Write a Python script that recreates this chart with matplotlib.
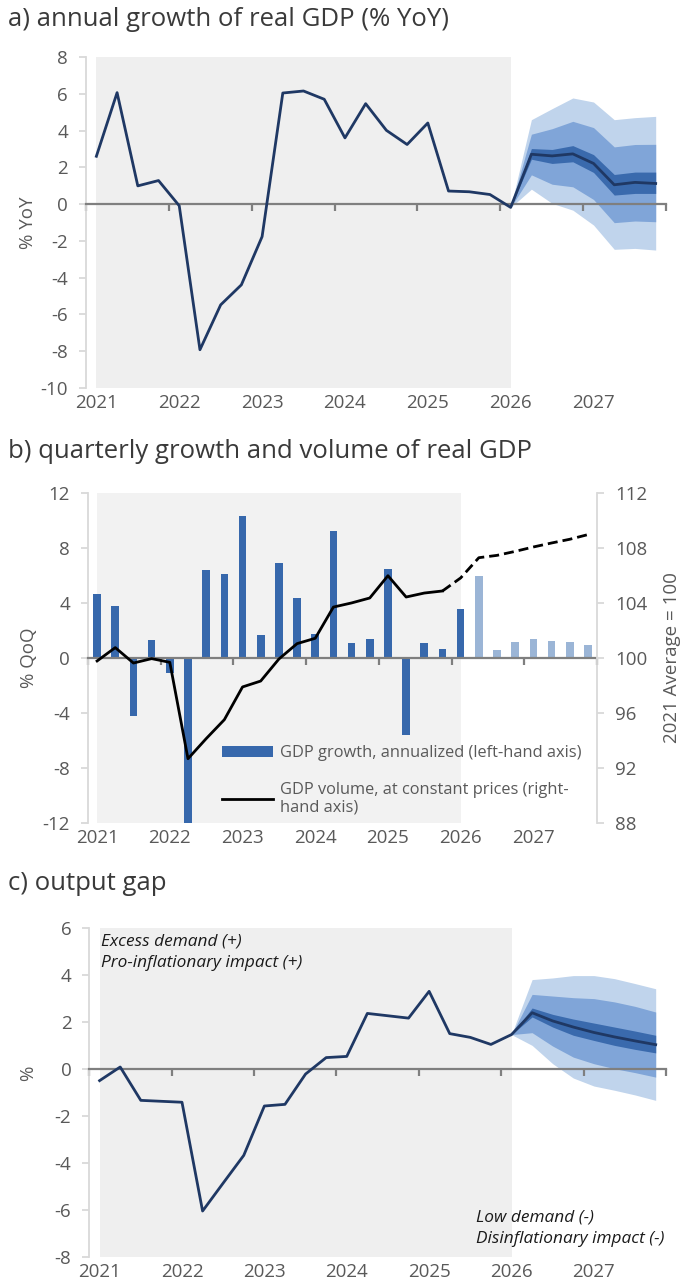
import matplotlib.pyplot as plt
from matplotlib.patches import Patch
from matplotlib.lines import Line2D

# quarterly axis: 2021 Q1 .. 2027 Q4, last actual quarter is 2026 Q1
years = ["2021", "2022", "2023", "2024", "2025", "2026", "2027"]
n_q = 28
last_actual = 20

# a) annual growth of real GDP, % YoY
yoy = [2.60, 6.06, 0.99, 1.28, -0.09, -7.92, -5.48, -4.39, -1.77, 6.04,
       6.15, 5.70, 3.60, 5.46, 4.01, 3.24, 4.41, 0.71, 0.67, 0.52,
       -0.18, 2.71, 2.62, 2.73, 2.21, 1.05, 1.18, 1.12]
# fan bands from 2026 Q1 onwards (lower/upper bounds)
yoy_light_lo = [-0.18, 0.81, 0.04, -0.33, -1.14, -2.46, -2.41, -2.50]
yoy_mid_lo = [-0.18, 1.59, 1.08, 0.94, 0.25, -1.01, -0.92, -0.96]
yoy_dark_lo = [-0.18, 2.44, 2.21, 2.30, 1.72, 0.49, 0.58, 0.58]
yoy_dark_hi = [-0.18, 3.02, 2.97, 3.18, 2.69, 1.61, 1.74, 1.74]
yoy_mid_hi = [-0.18, 3.80, 4.10, 4.50, 4.16, 3.11, 3.24, 3.25]
yoy_light_hi = [-0.18, 4.59, 5.19, 5.77, 5.55, 4.59, 4.70, 4.77]

# b) quarterly growth (annualized, %) and volume index (2021 avg = 100)
qoq = [4.61, 3.73, -4.27, 1.31, -1.09, -13.0, 6.35, 6.11, 10.28, 1.65,
       6.88, 4.34, 1.70, 9.19, 1.07, 1.33, 6.42, -5.65, 1.04, 0.61,
       3.52, 5.92, 0.53, 1.12, 1.33, 1.19, 1.12, 0.92]
volume = [99.76, 100.73, 99.61, 99.93, 99.66, 92.65, 94.11, 95.49, 97.87, 98.30,
          99.90, 101.02, 101.41, 103.68, 103.98, 104.34, 105.96, 104.41, 104.70, 104.85,
          105.80, 107.27, 107.44, 107.73, 108.05, 108.34, 108.61, 108.95]

# c) output gap, %
gap = [-0.48, 0.10, -1.32, -1.36, -1.40, -6.03, -4.84, -3.66, -1.56, -1.49,
       -0.20, 0.50, 0.55, 2.38, 2.28, 2.18, 3.32, 1.52, 1.36, 1.06,
       1.48, 2.41, 2.06, 1.80, 1.57, 1.38, 1.21, 1.05]
gap_light_lo = [1.48, 1.02, 0.24, -0.37, -0.71, -0.89, -1.09, -1.32]
gap_mid_lo = [1.48, 1.56, 0.99, 0.52, 0.24, 0.03, -0.14, -0.33]
gap_dark_lo = [1.48, 2.23, 1.80, 1.45, 1.23, 1.02, 0.85, 0.70]
gap_dark_hi = [1.48, 2.61, 2.34, 2.14, 1.97, 1.80, 1.63, 1.45]
gap_mid_hi = [1.48, 3.19, 3.12, 3.05, 3.01, 2.87, 2.68, 2.44]
gap_light_hi = [1.48, 3.82, 3.89, 3.99, 3.99, 3.86, 3.65, 3.43]

plt.rcParams["font.family"] = "Open Sans"
plt.rcParams["axes.unicode_minus"] = False

GREY_TXT = "#595959"
TITLE_TXT = "#3a3a3a"
NAVY = "#1f3864"
FAN = ["#c0d4ec", "#80a5d8", "#3a6aad"]
BAR_DARK = "#3768ac"
BAR_LIGHT = "#9bb5d6"
TICK_FS = 13.5
TITLE_FS = 18.5


def style_axis(ax, ylim, yticks):
    ax.set_xlim(-0.5, n_q - 0.5)
    ax.set_ylim(*ylim)
    ax.set_yticks(yticks)
    ax.set_facecolor("none")
    ax.spines["top"].set_visible(False)
    ax.spines["right"].set_visible(False)
    ax.spines["left"].set_color("#d9d9d9")
    ax.spines["left"].set_linewidth(1.3)
    # category axis crosses at zero, year labels stay at the bottom
    ax.spines["bottom"].set_position(("data", 0))
    ax.spines["bottom"].set_color("#7f7f7f")
    ax.spines["bottom"].set_linewidth(1.6)
    ax.set_xticks([i - 0.5 for i in range(0, n_q + 1, 4)])
    ax.tick_params(axis="x", length=5, width=1.6, color="#7f7f7f", labelbottom=False)
    ax.tick_params(axis="y", length=5, width=1.3, color="#d9d9d9",
                   labelcolor=GREY_TXT, labelsize=TICK_FS, pad=8)
    for k, yr in enumerate(years):
        ax.text(4 * k, -0.018, yr, transform=ax.get_xaxis_transform(),
                ha="center", va="top", color=GREY_TXT, fontsize=TICK_FS)


def fan_panel(ax, central, bands, ylim, yticks, ylabel, label_xy):
    style_axis(ax, ylim, yticks)
    ax.axvspan(0, last_actual, color="#efefef", lw=0, zorder=0)
    fx = list(range(last_actual, n_q))
    light_lo, mid_lo, dark_lo, dark_hi, mid_hi, light_hi = bands
    ax.fill_between(fx, light_lo, light_hi, color=FAN[0], lw=0, zorder=1)
    ax.fill_between(fx, mid_lo, mid_hi, color=FAN[1], lw=0, zorder=1)
    ax.fill_between(fx, dark_lo, dark_hi, color=FAN[2], lw=0, zorder=1)
    ax.plot(range(n_q), central, color=NAVY, lw=2, zorder=3)
    ax.set_ylabel(ylabel, color=GREY_TXT, fontsize=TICK_FS)
    ax.yaxis.set_label_coords(*label_xy)


fig = plt.figure(figsize=(6.87, 12.86), dpi=100)

# a) annual growth
ax_a = fig.add_axes([0.1252, 0.6983, 0.8443, 0.2574])
fan_panel(ax_a, yoy,
          [yoy_light_lo, yoy_mid_lo, yoy_dark_lo, yoy_dark_hi, yoy_mid_hi, yoy_light_hi],
          (-10, 8), range(-10, 9, 2), "% YoY", (-0.0845, 0.5))
fig.text(8 / 687, 1 - 26 / 1286, "a) annual growth of real GDP (% YoY)",
         fontsize=TITLE_FS, color=TITLE_TXT, va="baseline")

# b) quarterly growth and volume
ax_b = fig.add_axes([0.1281, 0.3603, 0.7409, 0.2566])
style_axis(ax_b, (-12, 12), range(-12, 13, 4))
ax_b.axvspan(0, last_actual, color="#f2f2f2", lw=0, zorder=0)
bar_colors = [BAR_DARK if i <= last_actual else BAR_LIGHT for i in range(n_q)]
ax_b.bar(range(n_q), qoq, width=0.42, color=bar_colors, zorder=1)
ax_b.set_ylabel("% QoQ", color=GREY_TXT, fontsize=TICK_FS)
ax_b.yaxis.set_label_coords(-0.098, 0.5)

ax_b2 = ax_b.twinx()
ax_b2.set_ylim(88, 112)
ax_b2.set_yticks(range(88, 113, 4))
for side in ["top", "bottom", "left"]:
    ax_b2.spines[side].set_visible(False)
ax_b2.spines["right"].set_color("#d9d9d9")
ax_b2.spines["right"].set_linewidth(1.3)
ax_b2.tick_params(axis="y", length=5, width=1.3, color="#d9d9d9",
                  labelcolor=GREY_TXT, labelsize=TICK_FS, pad=8)
ax_b2.plot(range(last_actual), volume[:last_actual], color="black", lw=2)
ax_b2.plot(range(last_actual - 1, n_q), volume[last_actual - 1:], color="black",
           lw=2, dashes=(3.6, 1.8))
ax_b2.set_ylabel("2021 Average = 100", color=GREY_TXT, fontsize=TICK_FS)
ax_b2.yaxis.set_label_coords(1.13, 0.5)

handles = [Patch(facecolor=BAR_DARK, edgecolor="none"),
           Line2D([], [], color="black", lw=2)]
labels = ["GDP growth, annualized (left-hand axis)",
          "GDP volume, at constant prices (right-\nhand axis)"]
ax_b2.legend(handles, labels, loc="upper left", bbox_to_anchor=(0.263, 0.235),
             frameon=False, fontsize=11.8, labelcolor=GREY_TXT, handlelength=3.1,
             handleheight=0.7, handletextpad=0.45, borderpad=0, borderaxespad=0,
             labelspacing=1.25)
fig.text(8 / 687, 1 - 458 / 1286, "b) quarterly growth and volume of real GDP",
         fontsize=TITLE_FS, color=TITLE_TXT, va="baseline")

# c) output gap
ax_c = fig.add_axes([0.13, 0.0223, 0.8394, 0.2558])
fan_panel(ax_c, gap,
          [gap_light_lo, gap_mid_lo, gap_dark_lo, gap_dark_hi, gap_mid_hi, gap_light_hi],
          (-8, 6), range(-8, 7, 2), "%", (-0.0907, 0.56))
ax_c.text(0.02, 0.985, "Excess demand (+)\nPro-inflationary impact (+)",
          transform=ax_c.transAxes, ha="left", va="top", style="italic",
          fontsize=12.4, color="#1a1a1a", linespacing=1.5)
ax_c.text(0.67, 0.03, "Low demand (-)\nDisinflationary impact (-)",
          transform=ax_c.transAxes, ha="left", va="bottom", style="italic",
          fontsize=12.4, color="#1a1a1a", linespacing=1.5)
fig.text(8 / 687, 1 - 890 / 1286, "c) output gap",
         fontsize=TITLE_FS, color=TITLE_TXT, va="baseline")

fig.savefig("out.png", dpi=100)
